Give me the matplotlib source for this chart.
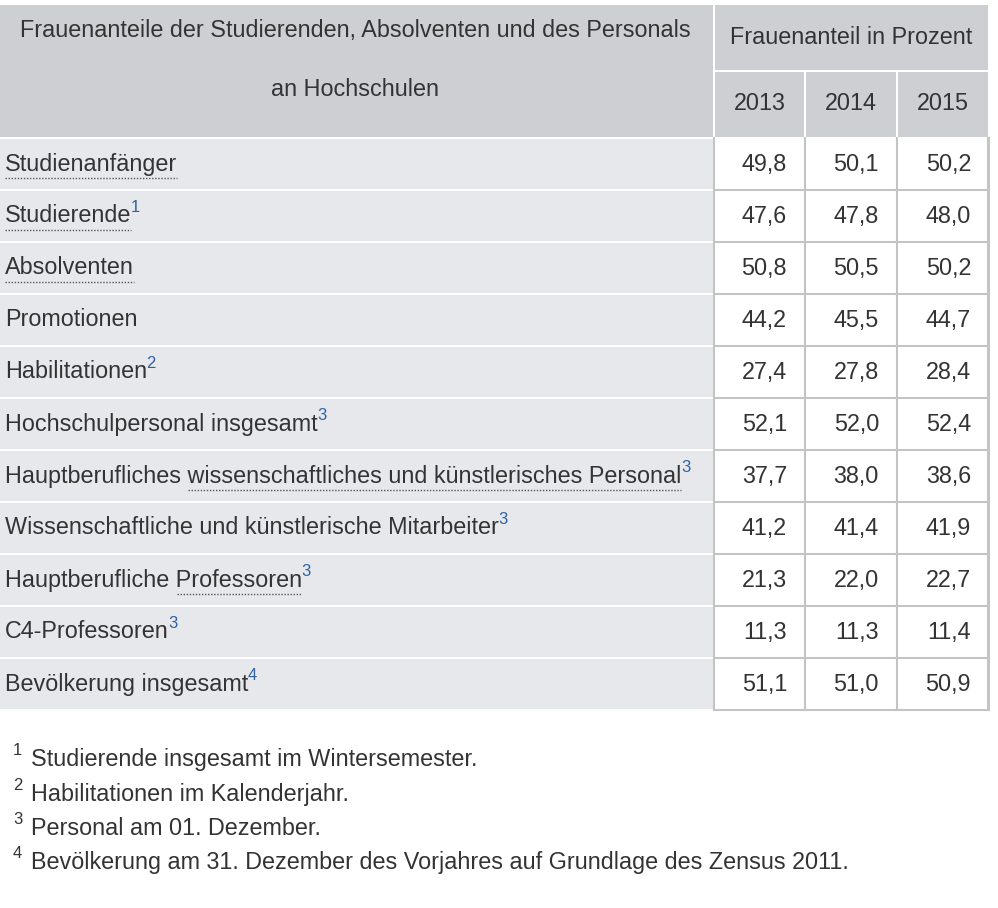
import matplotlib.pyplot as plt
from matplotlib.patches import Rectangle

plt.rcParams['font.family'] = ['Liberation Sans', 'DejaVu Sans']

# table content
header_left = ['Frauenanteile der Studierenden, Absolventen und des Personals', 'an Hochschulen']
header_right = 'Frauenanteil in Prozent'
years = ['2013', '2014', '2015']
labels = ['Studienanfänger', 'Studierende', 'Absolventen', 'Promotionen', 'Habilitationen',
          'Hochschulpersonal insgesamt',
          'Hauptberufliches wissenschaftliches und künstlerisches Personal',
          'Wissenschaftliche und künstlerische Mitarbeiter',
          'Hauptberufliche Professoren', 'C4-Professoren', 'Bevölkerung insgesamt']
# part of each label with dotted underline (prefix before it is plain)
underline_prefix = ['', '', '', None, None, None, 'Hauptberufliches ', None, 'Hauptberufliche ', None, None]
notes = ['', '1', '', '', '2', '3', '3', '3', '3', '3', '4']
v2013 = [49.8, 47.6, 50.8, 44.2, 27.4, 52.1, 37.7, 41.2, 21.3, 11.3, 51.1]
v2014 = [50.1, 47.8, 50.5, 45.5, 27.8, 52.0, 38.0, 41.4, 22.0, 11.3, 51.0]
v2015 = [50.2, 48.0, 50.2, 44.7, 28.4, 52.4, 38.6, 41.9, 22.7, 11.4, 50.9]
footnote_nums = ['1', '2', '3', '4']
footnote_texts = ['Studierende insgesamt im Wintersemester.',
                  'Habilitationen im Kalenderjahr.',
                  'Personal am 01. Dezember.',
                  'Bevölkerung am 31. Dezember des Vorjahres auf Grundlage des Zensus 2011.']

W, H = 998, 908
header_bg = '#cdcfd3'
row_bg = '#e6e8eb'
grid = '#c4c4c4'
txt = '#333333'
link = '#2f62a0'
fs = 16.8
fs_sup = 12

fig = plt.figure(figsize=(W / 100, H / 100), dpi=100)
ax = fig.add_axes([0, 0, 1, 1])
ax.set_xlim(0, W)
ax.set_ylim(H, 0)
ax.axis('off')

# header
ax.add_patch(Rectangle((0, 5), 713, 132, color=header_bg, lw=0))
ax.add_patch(Rectangle((715, 5), 273, 65, color=header_bg, lw=0))
col_left = [715, 806, 898]
col_right = [804, 896, 988]
for x0, x1, yr in zip(col_left, col_right, years):
    ax.add_patch(Rectangle((x0, 72), x1 - x0, 65, color=header_bg, lw=0))
    ax.text((x0 + x1) / 2, 104, yr, ha='center', va='center', fontsize=fs, color=txt)
ax.text(355, 30, header_left[0], ha='center', va='center', fontsize=fs, color=txt)
ax.text(355, 89, header_left[1], ha='center', va='center', fontsize=fs, color=txt)
ax.text(851, 38, header_right, ha='center', va='center', fontsize=fs, color=txt)

fig.canvas.draw()
r = fig.canvas.get_renderer()
inv = ax.transData.inverted()


def right_edge(t):
    bb = t.get_window_extent(r)
    return inv.transform((bb.x1, bb.y0))[0]


def text_width(s):
    # width of a string in data pixels, measured with a temporary text
    tmp = ax.text(0, 0, s, ha='left', va='baseline', fontsize=fs)
    w = right_edge(tmp)
    tmp.remove()
    return w


dot_w = text_width('.')

pitch = 52
top0 = 139
values = list(zip(v2013, v2014, v2015))
for i, lab in enumerate(labels):
    top = top0 + i * pitch
    ax.add_patch(Rectangle((0, top), 713, 50, color=row_bg, lw=0))
    ax.add_patch(Rectangle((714, top - 1), 274, 52, facecolor='white', lw=0))
    base = top + 31.5
    t = ax.text(5, base, lab, ha='left', va='baseline', fontsize=fs, color=txt)
    x_end = right_edge(t)
    pre = underline_prefix[i]
    if pre is not None:
        x_start = 5 + (text_width(pre + '.') - dot_w + 1 if pre else 0)
        ax.plot([x_start, x_end], [base + 7, base + 7], color='#555555', lw=1,
                ls=(0, (1, 1.2)))
    if notes[i]:
        ax.text(x_end - 0.5, base - 11, notes[i], ha='left', va='baseline',
                fontsize=fs_sup, color=link)
    for x1, v in zip(col_right, values[i]):
        ax.text(x1 - 17, top + 25, f'{v:.1f}'.replace('.', ','), ha='right',
                va='center', fontsize=fs, color=txt)

# grid lines of the value cells
bottom = top0 + len(labels) * pitch - 2
for x in [714, 805, 897, 988]:
    ax.plot([x, x], [top0 - 1, bottom], color=grid, lw=1.5 if x != 988 else 2.2)
for i in range(1, len(labels) + 1):
    y = top0 + i * pitch - 1
    ax.plot([714, 988], [y, y], color=grid, lw=1.5)

# footnotes
for k, (n, ft) in enumerate(zip(footnote_nums, footnote_texts)):
    yb = 766 + k * 34.5
    ax.text(13, yb - 11, n, ha='left', va='baseline', fontsize=fs_sup, color=txt)
    ax.text(31, yb, ft, ha='left', va='baseline', fontsize=fs, color=txt)

fig.savefig('out.png', dpi=100, facecolor='white')
